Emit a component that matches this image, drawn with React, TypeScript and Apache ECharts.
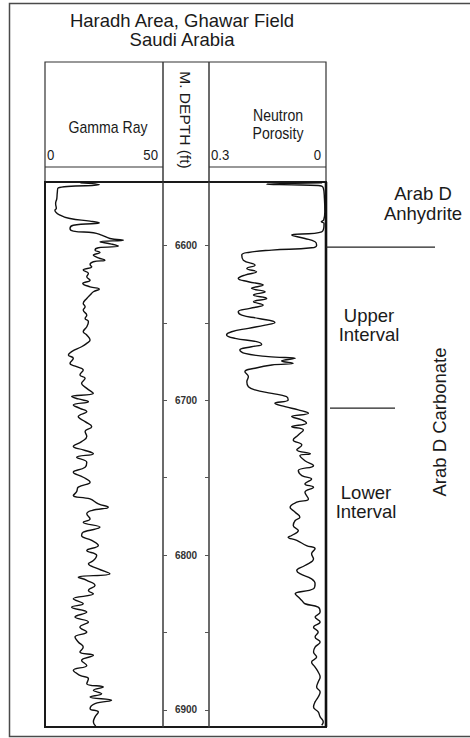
import React, { useEffect, useRef } from "react";
import * as echarts from "echarts";

// Gamma Ray curve (API units) vs measured depth (ft)
const gammaDepth = [
  6559.5, 6560.8, 6562.8, 6566.0, 6569.7, 6573.0, 6576.1, 6577.2, 6580.4, 6582.6,
  6584.3, 6585.4, 6586.9, 6589.0, 6590.7, 6591.8, 6593.3, 6595.5, 6596.6, 6597.6,
  6599.1, 6600.4, 6601.5, 6603.0, 6604.5, 6606.2, 6608.0, 6609.5, 6610.5, 6612.3,
  6613.8, 6615.9, 6618.1, 6620.2, 6622.4, 6624.5, 6626.7, 6628.2, 6629.9, 6632.0,
  6634.2, 6637.4, 6639.6, 6641.7, 6645.0, 6647.1, 6649.2, 6652.5, 6655.7, 6657.8,
  6661.1, 6663.2, 6665.4, 6668.6, 6670.7, 6672.9, 6676.1, 6678.3, 6680.4, 6683.6,
  6685.8, 6689.0, 6692.3, 6695.5, 6697.6, 6699.1, 6700.9, 6703.0, 6705.2, 6707.3,
  6710.5, 6713.8, 6717.0, 6720.2, 6723.4, 6726.7, 6729.9, 6732.0, 6734.5, 6736.8,
  6740.0, 6743.2, 6746.5, 6749.7, 6752.9, 6756.1, 6759.0, 6761.5, 6763.7, 6766.9,
  6769.0, 6771.2, 6773.3, 6776.6, 6778.7, 6781.9, 6785.2, 6787.3, 6790.5, 6793.8,
  6797.0, 6800.2, 6803.5, 6805.6, 6808.8, 6812.0, 6814.2, 6816.3, 6819.6, 6822.8,
  6825.0, 6828.2, 6831.4, 6833.6, 6836.8, 6840.0, 6843.2, 6846.5, 6849.7, 6852.9,
  6856.1, 6859.4, 6862.6, 6864.7, 6868.0, 6871.2, 6874.4, 6877.6, 6879.8, 6883.0,
  6885.2, 6887.3, 6889.5, 6891.6, 6893.8, 6895.9, 6899.2, 6901.3, 6904.5, 6907.7,
  6910.5,
];
const gammaValue = [
  15.0, 23.0, 5.6, 5.2, 5.0, 4.5, 4.8, 4.2, 6.4, 10.6,
  19.1, 23.0, 12.0, 10.6, 12.0, 20.5, 24.0, 27.5, 33.2, 23.3,
  28.2, 31.1, 22.6, 21.2, 23.3, 20.5, 22.6, 25.4, 20.5, 19.1,
  19.8, 16.2, 18.4, 17.7, 19.1, 16.0, 19.1, 23.0, 20.5, 19.1,
  17.7, 16.2, 17.0, 16.2, 17.7, 17.0, 18.4, 17.7, 16.2, 17.7,
  19.1, 17.7, 15.5, 11.3, 9.9, 12.0, 10.6, 13.4, 16.2, 14.8,
  17.0, 15.5, 17.7, 20.5, 11.3, 14.1, 18.4, 12.0, 14.8, 17.7,
  14.1, 17.0, 19.8, 17.0, 17.7, 15.5, 12.0, 16.2, 20.5, 13.4,
  17.7, 17.0, 12.0, 16.2, 19.1, 14.1, 13.4, 12.0, 19.1, 22.6,
  26.8, 19.8, 17.7, 19.1, 16.2, 23.3, 16.2, 15.5, 19.8, 22.6,
  17.7, 21.9, 20.5, 18.4, 22.6, 27.5, 14.1, 17.7, 21.2, 18.4,
  20.5, 12.0, 16.2, 11.3, 17.7, 12.7, 18.4, 14.8, 17.7, 12.7,
  14.1, 16.2, 14.8, 20.5, 15.5, 17.7, 12.0, 14.8, 18.4, 17.7,
  24.7, 20.5, 24.0, 19.1, 28.2, 21.2, 19.1, 22.6, 21.2, 20.5,
  21.5,
];

// Neutron Porosity curve (v/v) vs measured depth (ft)
const neutronDepth = [
  6559.5, 6560.4, 6561.3, 6562.8, 6569.7, 6578.3, 6583.6, 6584.7, 6585.8, 6591.2,
  6593.3, 6595.5, 6597.6, 6599.8, 6601.5, 6603.0, 6604.5, 6606.2, 6609.5, 6612.7,
  6614.8, 6617.0, 6619.1, 6621.3, 6623.4, 6625.6, 6627.7, 6629.9, 6632.0, 6634.2,
  6636.3, 6638.5, 6640.6, 6642.8, 6645.0, 6647.1, 6649.7, 6651.4, 6653.5, 6655.7,
  6657.8, 6660.0, 6662.1, 6663.9, 6665.4, 6667.5, 6669.7, 6671.8, 6672.9, 6674.6,
  6676.1, 6677.2, 6679.3, 6681.5, 6684.7, 6688.0, 6691.2, 6693.3, 6695.5, 6697.6,
  6699.8, 6701.9, 6704.1, 6706.2, 6708.4, 6710.5, 6712.7, 6714.8, 6717.0, 6719.1,
  6722.4, 6725.6, 6728.8, 6732.0, 6734.5, 6735.7, 6739.0, 6742.2, 6745.4, 6748.6,
  6750.8, 6754.0, 6756.1, 6759.4, 6763.7, 6765.8, 6769.0, 6772.3, 6775.5, 6777.6,
  6780.9, 6784.1, 6787.3, 6788.4, 6790.5, 6793.8, 6795.9, 6799.1, 6802.4, 6806.7,
  6809.9, 6812.0, 6815.3, 6818.5, 6821.7, 6825.0, 6827.1, 6829.3, 6831.4, 6833.6,
  6836.8, 6840.0, 6843.2, 6846.5, 6849.7, 6852.9, 6856.1, 6859.4, 6862.6, 6865.8,
  6869.0, 6872.3, 6875.5, 6878.7, 6881.9, 6885.2, 6888.4, 6891.6, 6894.8, 6898.1,
  6901.3, 6904.5, 6907.7, 6909.9,
];
const neutronValue = [
  0.010, 0.152, 0.020, 0.007, 0.004, 0.003, 0.006, 0.012, 0.005, 0.011,
  0.088, 0.054, 0.028, 0.024, 0.037, 0.139, 0.199, 0.216, 0.212, 0.182,
  0.203, 0.178, 0.208, 0.225, 0.199, 0.161, 0.191, 0.156, 0.186, 0.152,
  0.186, 0.161, 0.195, 0.225, 0.216, 0.174, 0.131, 0.156, 0.199, 0.242,
  0.255, 0.233, 0.178, 0.165, 0.191, 0.221, 0.208, 0.148, 0.079, 0.114,
  0.084, 0.139, 0.182, 0.208, 0.199, 0.203, 0.199, 0.182, 0.139, 0.101,
  0.097, 0.131, 0.105, 0.071, 0.045, 0.088, 0.062, 0.050, 0.088, 0.058,
  0.071, 0.084, 0.062, 0.075, 0.040, 0.067, 0.054, 0.032, 0.071, 0.062,
  0.037, 0.054, 0.032, 0.054, 0.045, 0.075, 0.092, 0.079, 0.067, 0.079,
  0.084, 0.071, 0.088, 0.097, 0.075, 0.050, 0.028, 0.037, 0.032, 0.054,
  0.075, 0.067, 0.037, 0.028, 0.032, 0.079, 0.071, 0.062, 0.054, 0.020,
  0.015, 0.028, 0.015, 0.032, 0.020, 0.028, 0.015, 0.028, 0.032, 0.024,
  0.037, 0.028, 0.020, 0.015, 0.020, 0.024, 0.015, 0.020, 0.028, 0.032,
  0.020, 0.015, 0.007, 0.011,
];

const depthMin = 6559;
const depthMax = 6911;
const depthTicks = [6600, 6650, 6700, 6750, 6800, 6850, 6900];
const depthLabels = [6600, 6700, 6800, 6900];
const gammaRange = [0, 50];
const neutronRange = [0, 0.3];
const gammaScaleLabels = ["0", "50"];
const neutronScaleLabels = ["0.3", "0"];
const zoneTops = [6601, 6705];
const zoneNames = ["Arab D\nAnhydrite", "Upper\nInterval", "Lower\nInterval"];
const title = "Haradh Area, Ghawar Field\nSaudi Arabia";

const FONT = "'Liberation Sans', Arial, Helvetica, sans-serif";

export default function App() {
  const ref = useRef<HTMLDivElement>(null);

  useEffect(() => {
    if (!ref.current) return;
    const chart = echarts.init(ref.current, null, { renderer: "svg" });

    const hiddenY = (gridIndex: number) => ({
      type: "value",
      gridIndex,
      min: depthMin,
      max: depthMax,
      inverse: true,
      show: false,
    });

    const depthAxis = (position: "left" | "right", withLabels: boolean) => ({
      type: "value",
      gridIndex: 1,
      position,
      min: depthMin,
      max: depthMax,
      inverse: true,
      splitLine: { show: false },
      axisLine: { show: true, lineStyle: { color: "#3a3a3a", width: 1.5 } },
      axisTick: {
        show: true,
        inside: true,
        length: 4,
        customValues: depthTicks,
        lineStyle: { color: "#555", width: 1 },
      },
      axisLabel: withLabels
        ? {
            show: true,
            inside: true,
            customValues: depthLabels,
            formatter: (v: number) => String(v),
            margin: 23,
            align: "center",
            verticalAlign: "middle",
            fontSize: 10,
            fontWeight: "bold",
            color: "#333",
            fontFamily: FONT,
          }
        : { show: false },
    });

    const option: any = {
      animation: false,
      backgroundColor: "#fff",
      grid: [
        { left: 45, top: 182, width: 118, height: 545, show: false },
        { left: 163, top: 182, width: 46, height: 545, show: false },
        { left: 209, top: 182, width: 117, height: 545, show: false },
      ],
      xAxis: [
        { type: "value", gridIndex: 0, min: gammaRange[0], max: gammaRange[1], show: false },
        { type: "value", gridIndex: 1, min: 0, max: 1, show: false },
        { type: "value", gridIndex: 2, min: neutronRange[0], max: neutronRange[1], inverse: true, show: false },
      ],
      yAxis: [hiddenY(0), depthAxis("left", true), depthAxis("right", false), hiddenY(2)],
      series: [
        {
          name: "Gamma Ray",
          type: "line",
          xAxisIndex: 0,
          yAxisIndex: 0,
          showSymbol: false,
          smooth: 0.45,
          lineStyle: { color: "#111", width: 1.4 },
          data: gammaDepth.map((d, i) => [gammaValue[i], d]),
        },
        {
          name: "Neutron Porosity",
          type: "line",
          xAxisIndex: 2,
          yAxisIndex: 3,
          showSymbol: false,
          smooth: 0.45,
          lineStyle: { color: "#111", width: 1.4 },
          data: neutronDepth.map((d, i) => [neutronValue[i], d]),
        },
      ],
    };

    chart.setOption(option);

    const yOf = (d: number) => chart.convertToPixel({ yAxisIndex: 0 }, d) as number;
    const y1 = yOf(zoneTops[0]);
    const y2 = yOf(zoneTops[1]);

    const txt = (
      text: string,
      x: number,
      y: number,
      size: number,
      align: string,
      lineHeight: number,
      extra: any = {}
    ) => ({
      type: "text",
      x,
      y,
      silent: true,
      style: {
        text,
        fontSize: size,
        fontFamily: FONT,
        fill: "#1a1a1a",
        align,
        verticalAlign: "middle",
        lineHeight,
      },
      ...extra,
    });

    const ln = (x1: number, ya: number, x2: number, yb: number, w: number, c = "#2a2a2a") => ({
      type: "line",
      silent: true,
      shape: { x1, y1: ya, x2, y2: yb },
      style: { stroke: c, lineWidth: w },
    });

    const narrow = { scaleX: 0.88 };

    const graphic: any[] = [
      // outer frame
      {
        type: "rect",
        silent: true,
        shape: { x: 9.5, y: 3.5, width: 466, height: 733 },
        style: { fill: "none", stroke: "#4a4a4a", lineWidth: 1.5 },
      },
      // header box
      {
        type: "rect",
        silent: true,
        shape: { x: 45, y: 62, width: 281, height: 120 },
        style: { fill: "none", stroke: "#333", lineWidth: 1.2 },
      },
      ln(163, 62, 163, 182, 1.5, "#3a3a3a"),
      ln(209, 62, 209, 182, 1.5, "#3a3a3a"),
      ln(45, 167, 163, 167, 1.2, "#333"),
      ln(209, 167, 326, 167, 1.2, "#333"),
      // track frame
      {
        type: "rect",
        silent: true,
        shape: { x: 45, y: 182, width: 281, height: 545 },
        style: { fill: "none", stroke: "#1a1a1a", lineWidth: 2 },
      },
      ln(326, 182, 326, 727, 2.6, "#111"),
      // zone boundary lines
      ln(326, y1, 435, y1, 1.3, "#222"),
      ln(330, y2, 395, y2, 1.3, "#222"),
      // title
      txt(title, 182, 29.5, 18.5, "center", 19),
      // track headers
      txt("Gamma Ray", 108, 127, 16, "center", 18, narrow),
      txt("Neutron\nPorosity", 278, 124, 16, "center", 18, narrow),
      txt(gammaScaleLabels[0], 47, 155, 15, "left", 16, narrow),
      txt(gammaScaleLabels[1], 158, 155, 15, "right", 16, narrow),
      txt(neutronScaleLabels[0], 211, 155, 15, "left", 16, narrow),
      txt(neutronScaleLabels[1], 321, 155, 15, "right", 16, narrow),
      txt("M. DEPTH (ft)", 185, 120, 15.5, "center", 16, { rotation: -Math.PI / 2 }),
      // zone labels
      txt(zoneNames[0], 423, 203, 18.5, "center", 20),
      txt(zoneNames[1], 369, 325, 18.5, "center", 19),
      txt(zoneNames[2], 366, 502, 18.5, "center", 19),
      txt("Arab D Carbonate", 439, 422, 18.5, "center", 20, { rotation: Math.PI / 2 }),
    ];

    chart.setOption({ graphic });

    return () => chart.dispose();
  }, []);

  return (
    <div
      ref={ref}
      style={{ position: "absolute", left: 0, top: 0, width: 470, height: 738, background: "#fff" }}
    />
  );
}
